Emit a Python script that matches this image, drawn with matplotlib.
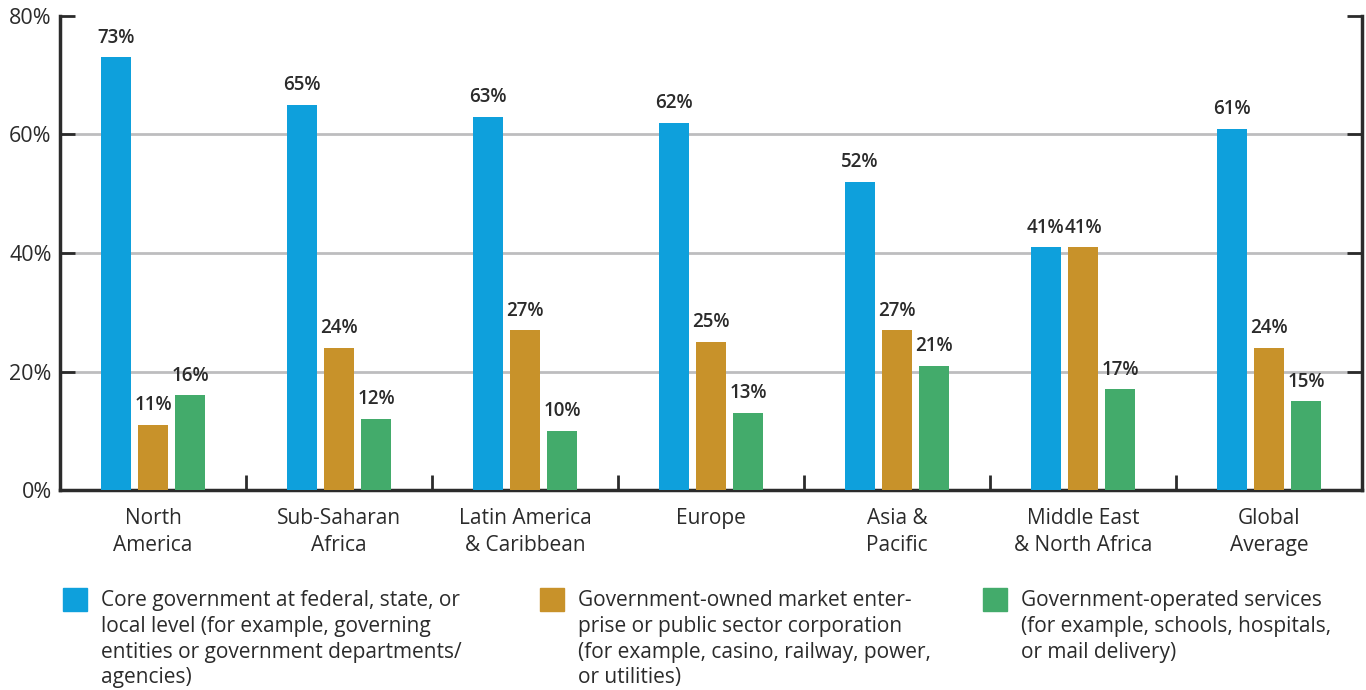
import numpy as np
import matplotlib.pyplot as plt
from matplotlib.patches import Rectangle
from matplotlib.ticker import FuncFormatter

# Données
regions = ["North\nAmerica", "Sub-Saharan\nAfrica", "Latin America\n& Caribbean", "Europe",
           "Asia &\nPacific", "Middle East\n& North Africa", "Global\nAverage"]
core_gov = [73, 65, 63, 62, 52, 41, 61]
owned_enterprise = [11, 24, 27, 25, 27, 41, 24]
operated_services = [16, 12, 10, 13, 21, 17, 15]

legend_labels = [
    "Core government at federal, state, or\nlocal level (for example, governing\nentities or government departments/\nagencies)",
    "Government-owned market enter-\nprise or public sector corporation\n(for example, casino, railway, power,\nor utilities)",
    "Government-operated services\n(for example, schools, hospitals,\nor mail delivery)",
]
colors = ["#0ea0dc", "#c8922a", "#43ab6b"]

plt.rcParams['font.family'] = ['Open Sans', 'DejaVu Sans']
text_color = "#2b2b2b"

fig = plt.figure(figsize=(13.66, 6.9), dpi=100)
ax = fig.add_axes([60 / 1366, 1 - 490 / 690, 1302 / 1366, 474 / 690])

x = np.arange(len(regions))
w = 0.16
step = 0.2
series = [core_gov, owned_enterprise, operated_services]
for i, (vals, c) in enumerate(zip(series, colors)):
    pos = x + (i - 1) * step
    bars = ax.bar(pos, vals, width=w, color=c, zorder=3)
    for b, v in zip(bars, vals):
        ax.text(b.get_x() + b.get_width() / 2, v + 1.6, f"{v}%", ha="center", va="bottom",
                fontsize=13.5, fontweight="semibold", color=text_color)

ax.set_xlim(-0.5, len(regions) - 0.5)
ax.set_ylim(0, 80)
ax.set_yticks([0, 20, 40, 60, 80])
ax.yaxis.set_major_formatter(FuncFormatter(lambda v, p: f"{v:.0f}%"))
ax.grid(axis="y", color="#bdbdbf", linewidth=2, zorder=0)
ax.get_ygridlines()[-1].set_visible(False)
ax.tick_params(axis="y", direction="in", length=11, width=2, color="#2b2b2b",
               labelsize=15.5, labelcolor=text_color, pad=6, right=True, labelright=False)

ax.set_xticks(x)
ax.set_xticklabels(regions, fontsize=15, color=text_color, linespacing=1.35)
ax.tick_params(axis="x", which="major", length=0, pad=13)
ax.set_xticks(np.arange(0.5, len(regions) - 1, 1), minor=True)
ax.tick_params(axis="x", which="minor", direction="in", length=11, width=2, color="#2b2b2b")

for s in ["left", "right", "bottom"]:
    ax.spines[s].set_linewidth(2.5)
    ax.spines[s].set_color("#2b2b2b")
ax.spines["top"].set_visible(False)

# Légende manuelle
leg_x = [63, 540, 983]
for lx, lab, c in zip(leg_x, legend_labels, colors):
    fig.patches.append(Rectangle((lx / 1366, 1 - 611 / 690), 24 / 1366, 23 / 690,
                                 transform=fig.transFigure, color=c))
    fig.text((lx + 38) / 1366, 1 - 590 / 690, lab, ha="left", va="top", fontsize=15,
             color=text_color, linespacing=1.3)

fig.savefig("out.png", dpi=100)
